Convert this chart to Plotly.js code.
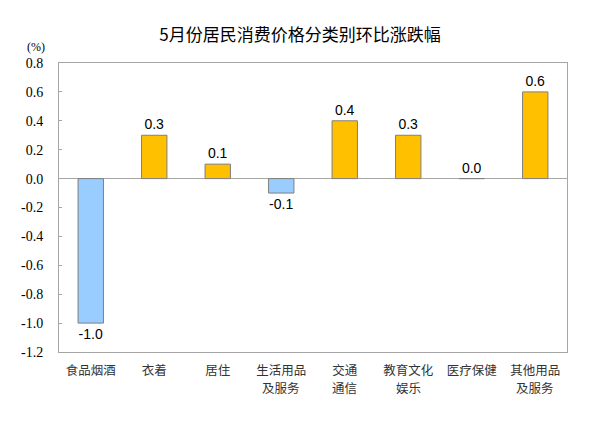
<!DOCTYPE html>
<html>
<head>
<meta charset="utf-8">
<script src="https://cdn.plot.ly/plotly-3.0.1.min.js"></script>
<style>html,body{margin:0;padding:0;background:#fff;}#chart{width:600px;height:428px;}</style>
</head>
<body>
<div id="chart"></div>
<script>
var categories = ["食品烟酒", "衣着", "居住", "生活用品及服务", "交通通信", "教育文化娱乐", "医疗保健", "其他用品及服务"];
var labelLine1 = ["食品烟酒", "衣着", "居住", "生活用品", "交通", "教育文化", "医疗保健", "其他用品"];
var labelLine2 = ["", "", "", "及服务", "通信", "娱乐", "", "及服务"];
var values = [-1.0, 0.3, 0.1, -0.1, 0.4, 0.3, 0.0, 0.6];
var tickVals = [-1.2, -1.0, -0.8, -0.6, -0.4, -0.2, 0.0, 0.2, 0.4, 0.6, 0.8];
var tickText = ["-1.2", "-1.0", "-0.8", "-0.6", "-0.4", "-0.2", "0.0", "0.2", "0.4", "0.6", "0.8"];

var colors = values.map(function(v){ return v < 0 ? "#99CCFF" : "#FFC000"; });
var labels = values.map(function(v){ return v.toFixed(1); });

var trace = {
  type: "bar",
  x: categories,
  y: values,
  width: 0.4,
  marker: {color: colors, line: {color: "#7f7f7f", width: 1}},
  text: labels,
  textposition: "outside",
  textfont: {family: "Arial", size: 14, color: "#000"},
  cliponaxis: false,
  hoverinfo: "none"
};

var annotations = [{
  text: "(%)", xref: "paper", yref: "paper", x: -0.045, y: 1.055, xanchor: "center", yanchor: "middle",
  showarrow: false, font: {family: "Liberation Serif", size: 12, color: "#000"}
}];
categories.forEach(function(c, i){
  if (labelLine2[i]) {
    annotations.push({
      text: labelLine2[i], xref: "x", yref: "paper", x: c, y: 0, xanchor: "center", yanchor: "middle",
      yshift: -35, showarrow: false,
      font: {family: "Noto Sans CJK SC", size: 12.5, color: "#333"}
    });
  }
});

var layout = {
  width: 600, height: 428,
  margin: {l: 59, r: 33, t: 63, b: 76},
  paper_bgcolor: "#fff", plot_bgcolor: "#fff",
  showlegend: false,
  title: {text: "5月份居民消费价格分类别环比涨跌幅", x: 0.5, xanchor: "center", y: 0.918, yanchor: "middle",
          font: {family: "Noto Sans CJK SC", size: 17, color: "#000"}},
  xaxis: {
    type: "category",
    tickvals: categories, ticktext: labelLine1,
    showline: true, linecolor: "#a6a6a6", linewidth: 1, mirror: true,
    ticks: "", showgrid: false, zeroline: false,
    tickfont: {family: "Noto Sans CJK SC", size: 12.5, color: "#333"},
    ticklabelstandoff: 7
  },
  yaxis: {
    range: [-1.2, 0.8],
    tickvals: tickVals, ticktext: tickText,
    showline: true, linecolor: "#a6a6a6", linewidth: 1, mirror: true,
    ticks: "inside", ticklen: 3, tickcolor: "#a6a6a6",
    showgrid: false,
    zeroline: true, zerolinecolor: "#a6a6a6", zerolinewidth: 1,
    ticklabelstandoff: 12,
    tickfont: {family: "Liberation Serif", size: 14, color: "#000"}
  },
  annotations: annotations
};

Plotly.newPlot("chart", [trace], layout, {displayModeBar: false, staticPlot: true});
</script>
</body>
</html>
